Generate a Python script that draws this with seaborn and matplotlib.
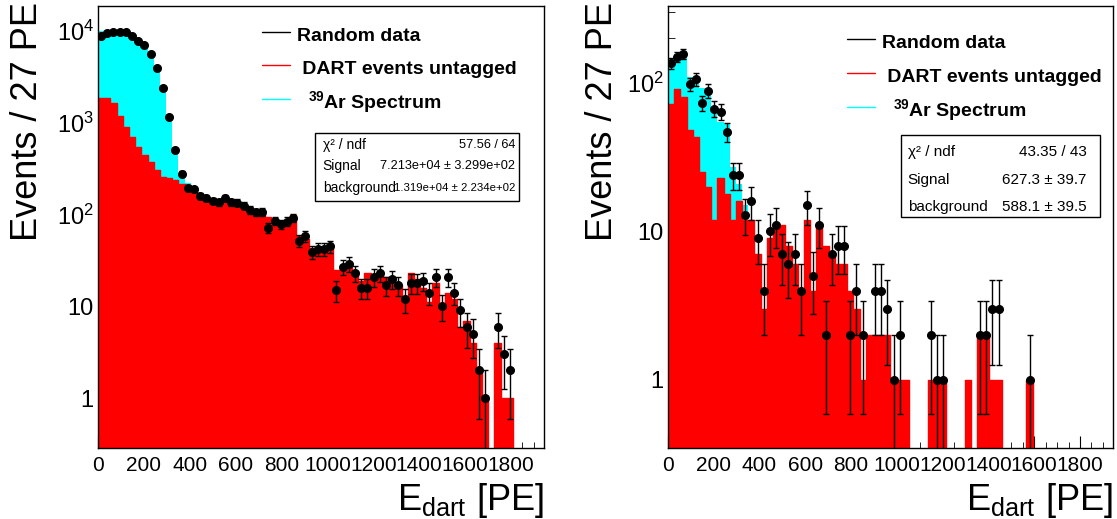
import numpy as np
import pandas as pd
import matplotlib
matplotlib.use("Agg")
import matplotlib.pyplot as plt
import seaborn as sns
from matplotlib.lines import Line2D
from matplotlib.patches import Rectangle
from matplotlib.ticker import MultipleLocator, LogLocator, NullFormatter

sns.set_style("ticks")
plt.rcParams['font.family'] = ['Liberation Sans', 'DejaVu Sans']
plt.rcParams['mathtext.fontset'] = 'custom'
plt.rcParams['mathtext.rm'] = 'Liberation Sans'
plt.rcParams['mathtext.it'] = 'Liberation Sans:italic'
plt.rcParams['mathtext.bf'] = 'Liberation Sans:bold'
plt.rcParams['mathtext.sf'] = 'Liberation Sans'
plt.rcParams['axes.edgecolor'] = 'black'
plt.rcParams['xtick.color'] = 'black'
plt.rcParams['ytick.color'] = 'black'
plt.rcParams['text.color'] = 'black'
plt.rcParams['axes.linewidth'] = 1.0

# ---------------- data ----------------
BIN_WIDTH = 27
N_BINS = 72
edges = np.arange(N_BINS + 1) * BIN_WIDTH
centers = edges[:-1] + BIN_WIDTH / 2

# left panel
data_left = [8800, 9480, 9880, 9720, 9720, 8870, 7760, 7130, 5640, 4000,
             2385, 1151, 503, 279, 194, 188, 160, 152, 141, 136,
             153, 136, 135, 125, 112, 106, 108, 72, 86, 78,
             84, 92, 52, 58, 39, 42, 42, 45, 15, 27,
             29, 23, 16, 16, 21, 23, 17, 20, 17, 12,
             18, 18, 19, 14, 21, 10, 21, 14, 9, 6,
             5, 2, 1, 0, 6, 3, 2, 0, 0, 0,
             0, 0]
bkg_left = [1850, 1850, 1635, 1190, 910, 707, 540, 446, 377, 306,
            260, 250, 236, 215, 204, 184, 168, 156, 146, 140,
            137, 132, 127, 120, 113, 108, 104, 95, 85, 78,
            80, 98, 59, 54, 43, 43, 43, 43, 25, 26,
            26, 24, 19, 23, 22, 22, 21, 19, 17, 13,
            23, 20, 16, 11, 18, 9, 14, 12, 6, 7,
            4, 2, 1, 0, 4, 1, 1, 0, 0, 0,
            0, 0]
ar39_left_head = [8150, 8450, 8665, 8910, 8890, 8493, 7760, 6754, 5423, 3894,
                  2240, 920, 292, 55, 16]
stats_left = [("χ² / ndf", "57.56 / 64"),
              ("Signal", "7.213e+04 ± 3.299e+02"),
              ("background", "1.319e+04 ± 2.234e+02")]

# right panel
data_right = [136, 150, 158, 98, 106, 73, 89, 67, 64, 47,
              24, 24, 13, 16, 9, 4, 10, 11, 7, 6,
              7, 4, 15, 5, 11, 2, 7, 8, 8, 2,
              4, 2, 0, 4, 4, 3, 1, 2, 0, 0,
              0, 0, 2, 1, 1, 0, 0, 0, 0, 0,
              2, 2, 3, 3, 0, 0, 0, 0, 1, 0,
              0, 0, 0, 0, 0, 0, 0, 0, 0, 0,
              0, 0]
bkg_right = [72, 91, 81, 48, 43, 25, 20, 12, 23, 18,
             12, 16, 12, 12, 7, 3, 9, 11, 11, 8,
             6, 4, 12, 4, 11, 8, 7, 6, 6, 4,
             3, 1, 2, 2, 2, 2, 1, 1, 1, 0,
             0, 0, 1, 1, 1, 0, 0, 0, 1, 0,
             2, 2, 1, 1, 0, 0, 0, 0, 1, 0,
             0, 0, 0, 0, 0, 0, 0, 0, 0, 0,
             0, 0]
ar39_right_head = [72, 67, 84, 62, 67, 67, 72, 56, 32, 35, 15, 5, 3]
stats_right = [("χ² / ndf", "43.35 / 43"),
               ("Signal", "627.3 ± 39.7"),
               ("background", "588.1 ± 39.5")]

legend_labels = ["Random data", " DART events untagged", "  $^{\\mathbf{39}}$Ar Spectrum"]
x_title = r"E$_{\mathregular{dart}}$ [PE]"
y_title = "Events / 27 PE"


def pad(head):
    out = np.zeros(N_BINS)
    out[:len(head)] = head
    return out


def draw_panel(ax, data, bkg, ar39, ylim, yticks, yticklabels, stats, box, rows,
               lab_x, val_x, lab_fs, val_fs, leg_anchor, ylab_x):
    bkg = np.asarray(bkg, float)
    df = pd.DataFrame({"E": centers, "total": bkg + ar39, "bkg": bkg})
    hist_kw = dict(binwidth=BIN_WIDTH, binrange=(0, N_BINS * BIN_WIDTH),
                   element='step', fill=True, alpha=1, ax=ax)
    sns.histplot(data=df, x="E", weights="total", color='#00ffff', linewidth=0, **hist_kw)
    sns.histplot(data=df, x="E", weights="bkg", color='#ff0000', linewidth=1, **hist_kw)
    d = np.asarray(data, float)
    m = d > 0
    ax.errorbar(centers[m], d[m], yerr=np.sqrt(d[m]), fmt='o', color='black',
                ms=5.5, elinewidth=1, capsize=2.5, capthick=1, zorder=5)

    ax.set_yscale('log')
    ax.set_xlim(0, N_BINS * BIN_WIDTH)
    ax.set_ylim(*ylim)
    ax.xaxis.set_major_locator(MultipleLocator(200))
    ax.xaxis.set_minor_locator(MultipleLocator(50))
    ax.set_yticks(yticks)
    ax.set_yticklabels(yticklabels)
    ax.yaxis.set_minor_locator(LogLocator(base=10, subs=np.arange(2, 10)))
    ax.yaxis.set_minor_formatter(NullFormatter())
    ax.tick_params(which='both', direction='in', top=False, right=False)
    ax.tick_params(axis='x', which='major', length=9, labelsize=15, pad=6)
    ax.tick_params(axis='x', which='minor', length=4.5)
    ax.tick_params(axis='y', which='major', length=9, labelsize=17, pad=3)
    ax.tick_params(axis='y', which='minor', length=5)
    ax.set_axisbelow(True)
    for s in ax.spines.values():
        s.set_visible(True)
        s.set_color('black')
        s.set_linewidth(1)
    ax.set_xlabel('')
    ax.set_ylabel('')

    ax.text(ylab_x, 1.009, y_title, rotation=90, rotation_mode='anchor',
            ha='right', va='center', fontsize=26, transform=ax.transAxes)
    ax.text(1.0, -0.140, x_title, ha='right', va='baseline', fontsize=26,
            transform=ax.transAxes)

    handles = [Line2D([], [], color='black', lw=1),
               Line2D([], [], color='#ff0000', lw=1),
               Line2D([], [], color='#00ffff', lw=1)]
    ax.legend(handles, legend_labels, loc='upper left', bbox_to_anchor=leg_anchor,
              frameon=False, borderpad=0, borderaxespad=0, handlelength=1.46,
              handleheight=1.45, handletextpad=0.35, labelspacing=0.52,
              prop={'weight': 'bold', 'size': 14})

    x0, y0, x1, y1 = box
    ax.add_patch(Rectangle((x0, y0), x1 - x0, y1 - y0, transform=ax.transAxes,
                           facecolor='white', edgecolor='black', lw=1, zorder=6))
    for (lab, val), yy, vfs in zip(stats, rows, val_fs):
        ax.text(lab_x, yy, lab, ha='left', va='center', fontsize=lab_fs,
                transform=ax.transAxes, zorder=7)
        ax.text(val_x, yy, val, ha='right', va='center', fontsize=vfs,
                transform=ax.transAxes, zorder=7)


fig = plt.figure(figsize=(11.17, 5.19), dpi=100)
ax1 = fig.add_axes([0.0877, 0.1368, 0.3993, 0.8516])
ax2 = fig.add_axes([0.5980, 0.1368, 0.3984, 0.8516])

draw_panel(ax1, data_left, bkg_left, pad(ar39_left_head), (0.285, 1.88e4),
           [1, 10, 100, 1000, 10000],
           ["1", "10", r"$10^{2}$", r"$10^{3}$", r"$10^{4}$"],
           stats_left, (0.4865, 0.559, 0.944, 0.7127), (0.6855, 0.638, 0.589),
           0.504, 0.935, 10, (9.2, 9.2, 8.2), (0.367, 0.962), -0.157)

draw_panel(ax2, data_right, bkg_right, pad(ar39_right_head), (0.348, 330),
           [1, 10, 100],
           ["1", "10", r"$10^{2}$"],
           stats_right, (0.5236, 0.5226, 0.971, 0.708), (0.670, 0.606, 0.545),
           0.539, 0.941, 11, (11, 11, 11), (0.402, 0.945), -0.146)

fig.savefig("out.png", dpi=100)
